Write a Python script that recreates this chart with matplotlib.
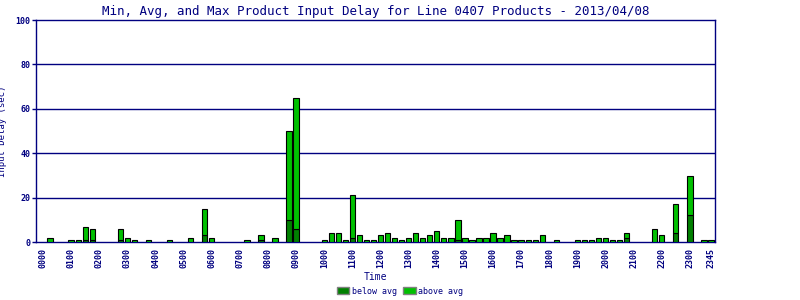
import numpy as np
import matplotlib.pyplot as plt
from matplotlib.patches import Patch

# 15 minute slots, 0000 .. 2345
max_delay = [0, 2, 0, 0, 1, 1, 7, 6, 0, 0, 0, 6,
             2, 1, 0, 1, 0, 0, 1, 0, 0, 2, 0, 15,
             2, 0, 0, 0, 0, 1, 0, 3, 0, 2, 0, 50,
             65, 0, 0, 0, 1, 4, 4, 1, 21, 3, 1, 1,
             3, 4, 2, 1, 2, 4, 2, 3, 5, 2, 2, 10,
             2, 1, 2, 2, 4, 2, 3, 1, 1, 1, 1, 3,
             0, 1, 0, 0, 1, 1, 1, 2, 2, 1, 1, 4,
             0, 0, 0, 6, 3, 0, 17, 0, 30, 0, 1, 1]
avg_delay = [0, 0, 0, 0, 0, 0, 1, 1, 0, 0, 0, 1,
             0, 0, 0, 0, 0, 0, 0, 0, 0, 0, 0, 3,
             0, 0, 0, 0, 0, 0, 0, 1, 0, 0, 0, 10,
             6, 0, 0, 0, 0, 0, 0, 0, 2, 0, 0, 0,
             0, 0, 0, 0, 0, 0, 0, 0, 0, 0, 0, 1,
             0, 0, 0, 0, 0, 0, 0, 0, 0, 0, 0, 0,
             0, 0, 0, 0, 0, 0, 0, 0, 0, 0, 0, 2,
             0, 0, 0, 0, 0, 0, 4, 0, 12, 0, 0, 0]
tick_slots = list(range(0, 96, 4)) + [95]
tick_labels = ["%02d00" % h for h in range(24)] + ["2345"]

navy = "#000080"
dark = "#008000"
light = "#00c000"
mono = "DejaVu Sans Mono"

mx = np.array(max_delay, dtype=float)
av = np.array(avg_delay, dtype=float)
idx = np.nonzero(mx)[0]

fig = plt.figure(figsize=(8, 3), dpi=100)
ax = fig.add_axes([0.045, 0.193, 0.849, 0.74])

ax.bar(idx, av[idx], width=0.76, color=dark, edgecolor="black", linewidth=0.8, zorder=3)
ax.bar(idx, mx[idx] - av[idx], bottom=av[idx], width=0.76, color=light,
       edgecolor="black", linewidth=0.8, zorder=3)

ax.set_xlim(-1.0, 95.6)
ax.set_ylim(0, 100)
ax.set_yticks(range(0, 101, 20))
for v in range(20, 100, 20):
    ax.axhline(v, color=navy, linewidth=1, zorder=1)
for s in ax.spines.values():
    s.set_color(navy)
    s.set_linewidth(1)

ax.set_xticks(tick_slots)
ax.set_xticklabels(tick_labels, rotation=90, family=mono, fontsize=6, color=navy, fontweight="bold")
ax.tick_params(axis="x", length=0, pad=4)
ax.tick_params(axis="y", length=3, width=1, color=navy, labelcolor=navy, labelsize=6, pad=1)
for t in ax.get_yticklabels():
    t.set_family(mono)
    t.set_fontweight("bold")

ax.set_title("Min, Avg, and Max Product Input Delay for Line 0407 Products - 2013/04/08",
             family=mono, fontsize=9, color=navy, pad=4)
ax.set_ylabel("Input Delay (sec)", family=mono, fontsize=6.5, color=navy)
ax.yaxis.set_label_coords(-0.042, 0.5)
ax.set_xlabel("Time", family=mono, fontsize=7, color=navy, labelpad=3)

handles = [Patch(facecolor=dark, edgecolor="gray", label="below avg"),
           Patch(facecolor=light, edgecolor="gray", label="above avg")]
fig.legend(handles=handles, loc="lower center", bbox_to_anchor=(0.5, -0.01), ncol=2,
           frameon=False, prop={"family": mono, "size": 6}, labelcolor=navy,
           handlelength=1.5, handleheight=1.0, handletextpad=0.3, columnspacing=0.8)

fig.savefig("out.png", dpi=100)
